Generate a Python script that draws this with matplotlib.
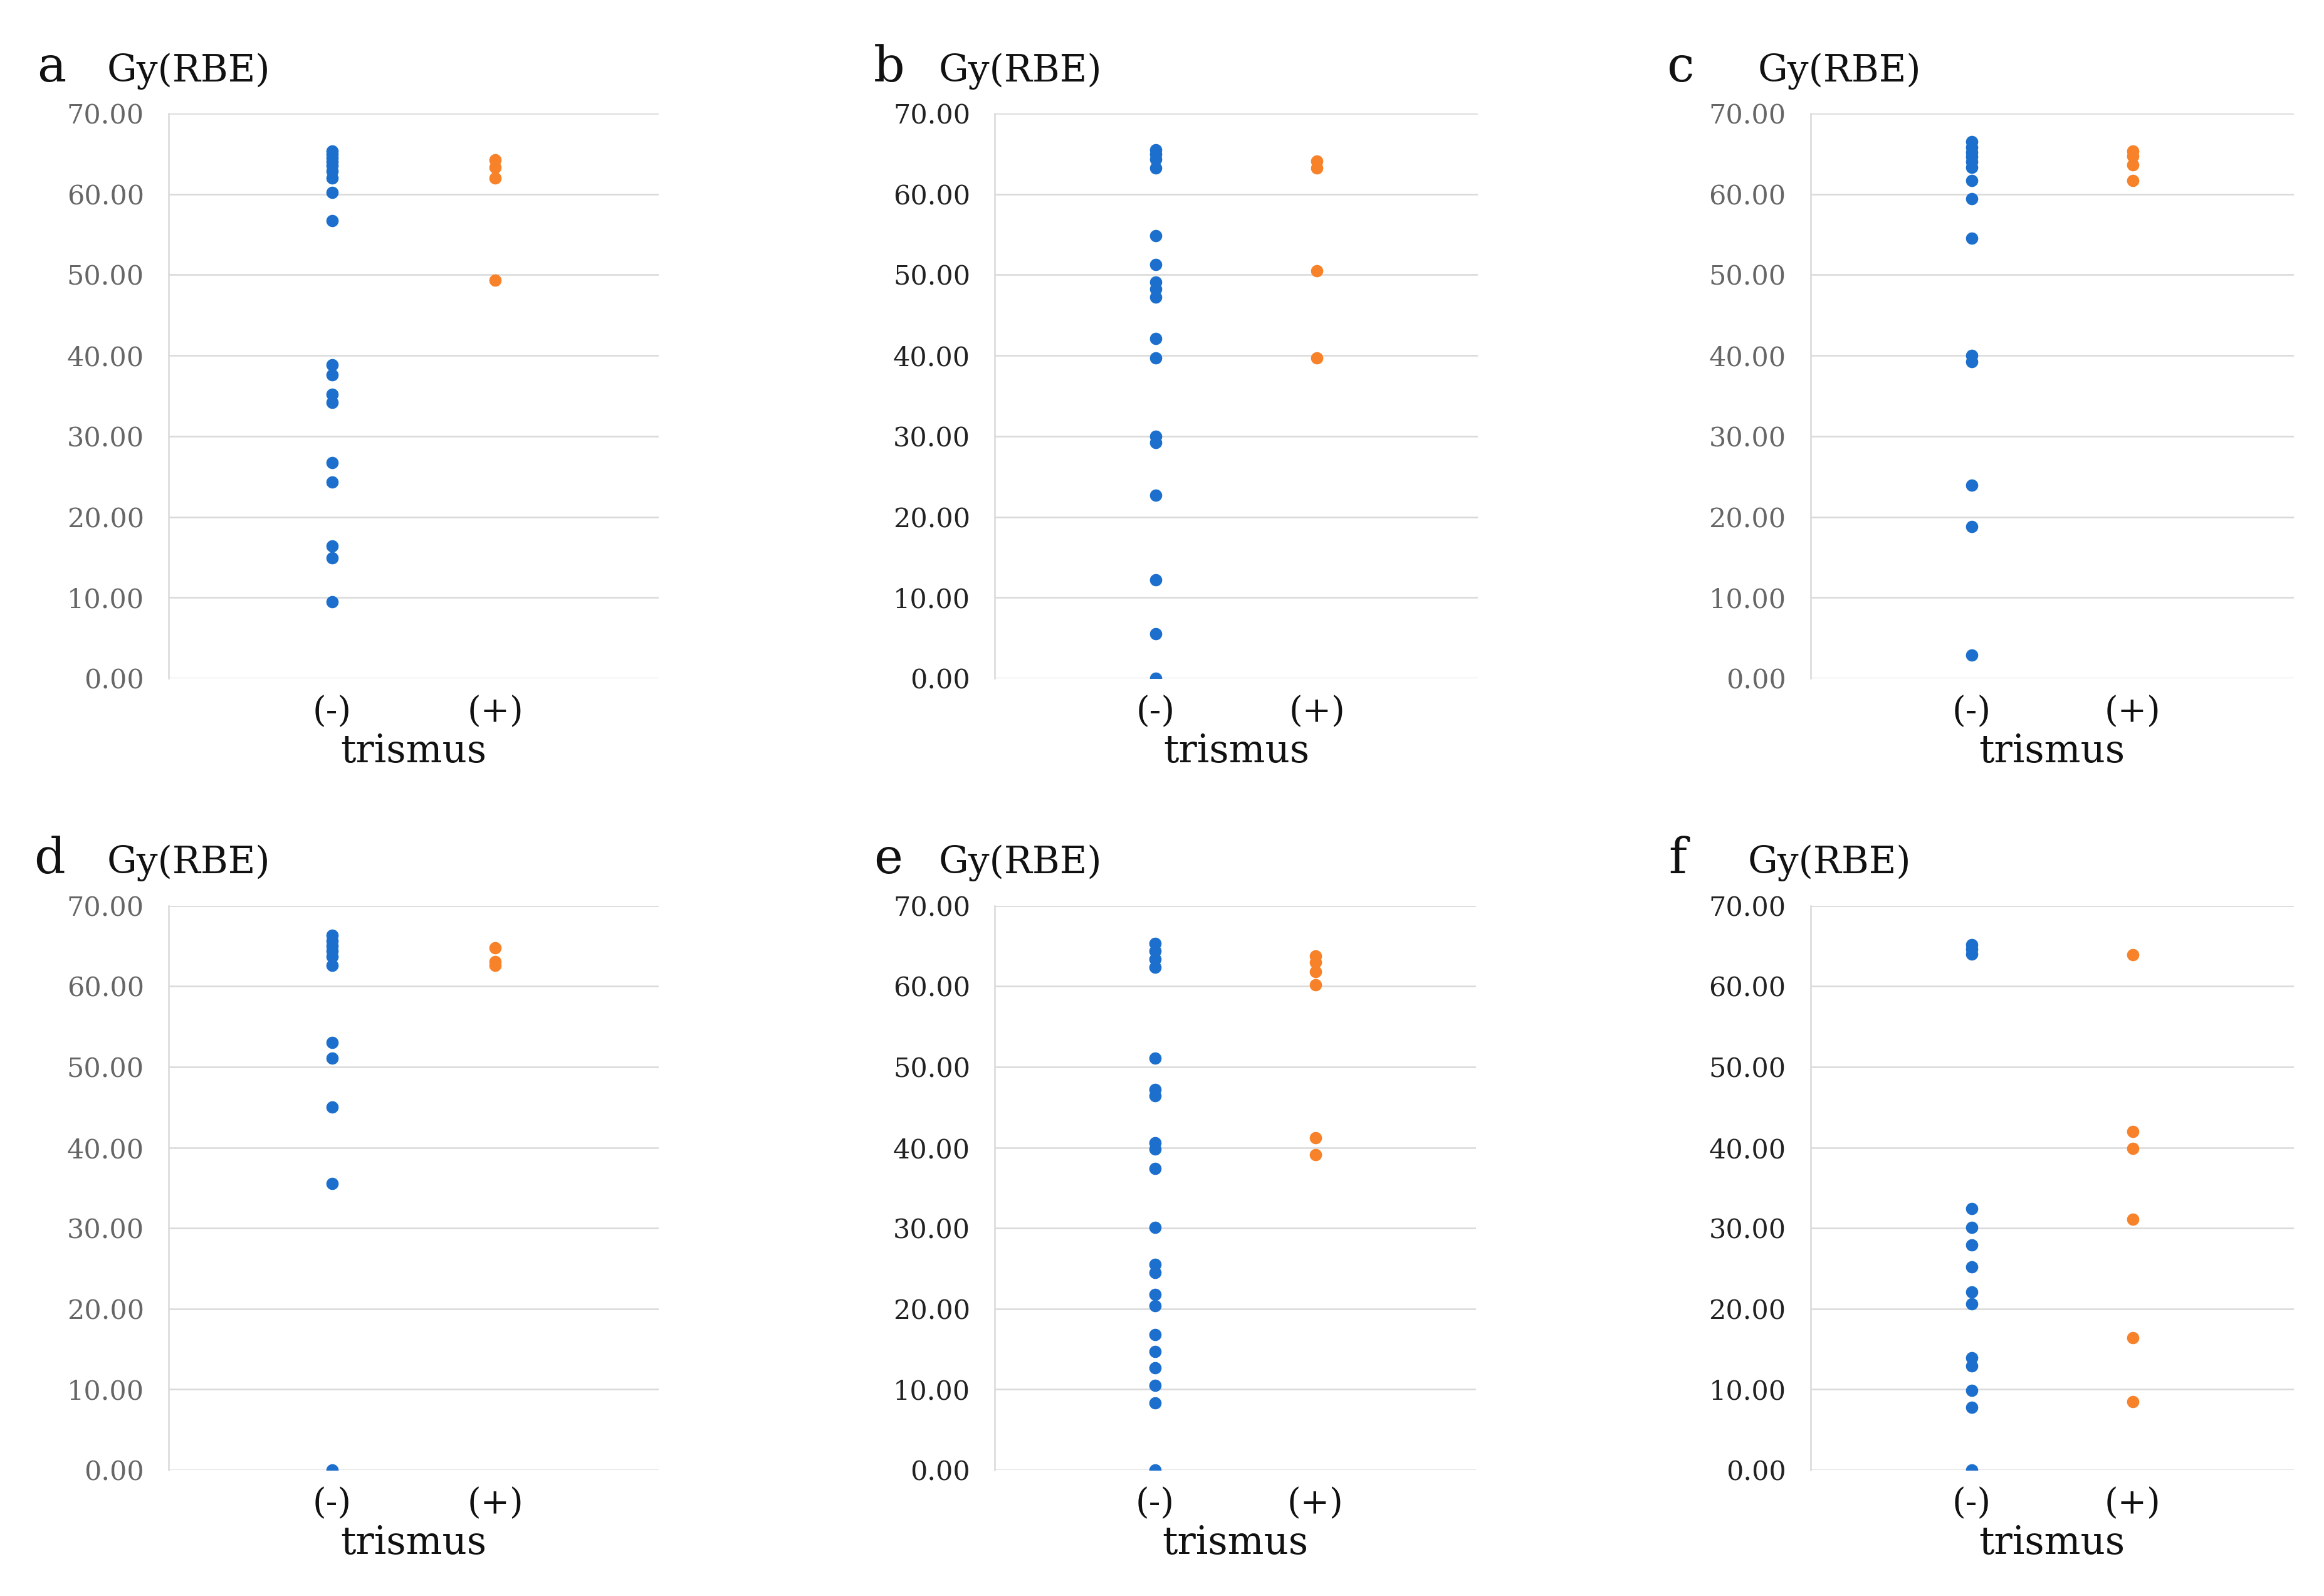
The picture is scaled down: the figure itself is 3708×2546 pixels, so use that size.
import matplotlib
matplotlib.use("Agg")
import matplotlib.pyplot as plt
from matplotlib.ticker import FormatStrFormatter

plt.rcParams['font.family'] = ['DejaVu Serif']

# dose values, Gy(RBE), per panel and trismus group
categories = ["(-)", "(+)"]
panel_letters = ["a", "b", "c", "d", "e", "f"]

a_neg = [65.3, 64.9, 64.5, 64.0, 63.5, 62.8, 62.0, 60.2, 56.7, 38.8, 37.6, 35.2, 34.2, 26.7, 24.3, 16.4, 14.9, 9.5]
a_pos = [64.2, 63.3, 62.0, 49.3]
b_neg = [65.5, 64.9, 64.3, 63.2, 54.8, 51.3, 49.1, 48.2, 47.2, 42.1, 39.7, 30.0, 29.2, 22.7, 12.2, 5.5, 0.0]
b_pos = [64.1, 63.2, 50.5, 39.7]
c_neg = [66.5, 65.8, 65.2, 64.6, 64.0, 63.3, 61.7, 59.4, 54.5, 40.0, 39.2, 23.9, 18.8, 2.9]
c_pos = [65.3, 64.7, 63.6, 61.7]
d_neg = [66.3, 65.6, 65.0, 64.4, 63.7, 62.6, 53.0, 51.1, 45.0, 35.5, 0.0]
d_pos = [64.8, 63.1, 62.6]
e_neg = [65.3, 64.4, 63.4, 62.4, 51.1, 47.2, 46.4, 40.6, 39.8, 37.4, 30.1, 25.5, 24.5, 21.8,
         20.4, 16.8, 14.7, 12.7, 10.5, 8.3, 0.0]
e_pos = [63.8, 63.0, 61.8, 60.2, 41.2, 39.1]
f_neg = [65.2, 64.6, 64.0, 32.4, 30.1, 27.9, 25.2, 22.1, 20.6, 13.9, 12.9, 9.9, 7.8, 0.0]
f_pos = [63.9, 42.0, 39.9, 31.1, 16.4, 8.5]

yticks = [0, 10, 20, 30, 40, 50, 60, 70]

BLUE = '#1c6fcc'
ORANGE = '#f7822a'
GRID = '#d9d9d9'


def plot_panel(fig, rect, neg, pos, letter, letter_xy, unit_x, tick_color):
    ax = fig.add_axes(rect)
    ax.scatter([1] * len(neg), neg, s=200, color=BLUE, zorder=3, linewidths=0)
    ax.scatter([2] * len(pos), pos, s=200, color=ORANGE, zorder=3, linewidths=0)

    ax.set_xlim(0, 3)
    ax.set_ylim(0, 70)
    ax.set_xticks([1, 2])
    ax.set_xticklabels(categories, fontsize=40, color='#111111')
    ax.set_yticks(yticks)
    ax.yaxis.set_major_formatter(FormatStrFormatter('%.2f'))
    ax.tick_params(axis='y', length=0, pad=28, labelsize=31, labelcolor=tick_color)
    ax.tick_params(axis='x', length=0, pad=19)
    ax.set_xlabel("trismus", fontsize=44, labelpad=4, color='#111111')

    ax.grid(axis='y', color=GRID, linewidth=1.8, zorder=0)
    ax.set_axisbelow(True)
    for side in ['top', 'right', 'bottom']:
        ax.spines[side].set_visible(False)
    ax.spines['left'].set_color(GRID)
    ax.spines['left'].set_linewidth(1.8)
    ax.spines['left'].set_zorder(1)

    fig.text(letter_xy[0], letter_xy[1], letter, fontsize=56, va='baseline', color='#111111')
    fig.text(unit_x, letter_xy[1], "Gy(RBE)", fontsize=43, va='baseline', color='#111111')
    return ax


fig = plt.figure(figsize=(37.08, 25.46), dpi=100)

rects = [
    [0.0725, 0.575, 0.211, 0.354],
    [0.428, 0.575, 0.208, 0.354],
    [0.779, 0.575, 0.208, 0.354],
    [0.0725, 0.079, 0.211, 0.3535],
    [0.428, 0.079, 0.207, 0.3535],
    [0.779, 0.079, 0.208, 0.3535],
]
letter_pos = [(0.016, 0.949), (0.376, 0.949), (0.717, 0.949),
              (0.0145, 0.453), (0.376, 0.453), (0.718, 0.453)]
unit_pos = [0.046, 0.404, 0.7565, 0.046, 0.404, 0.752]
tick_colors = ['#666666', '#222222', '#666666', '#666666', '#222222', '#222222']
neg_data = [a_neg, b_neg, c_neg, d_neg, e_neg, f_neg]
pos_data = [a_pos, b_pos, c_pos, d_pos, e_pos, f_pos]

for i in range(6):
    plot_panel(fig, rects[i], neg_data[i], pos_data[i], panel_letters[i],
               letter_pos[i], unit_pos[i], tick_colors[i])

fig.savefig("out.png", dpi=100, facecolor='white')
